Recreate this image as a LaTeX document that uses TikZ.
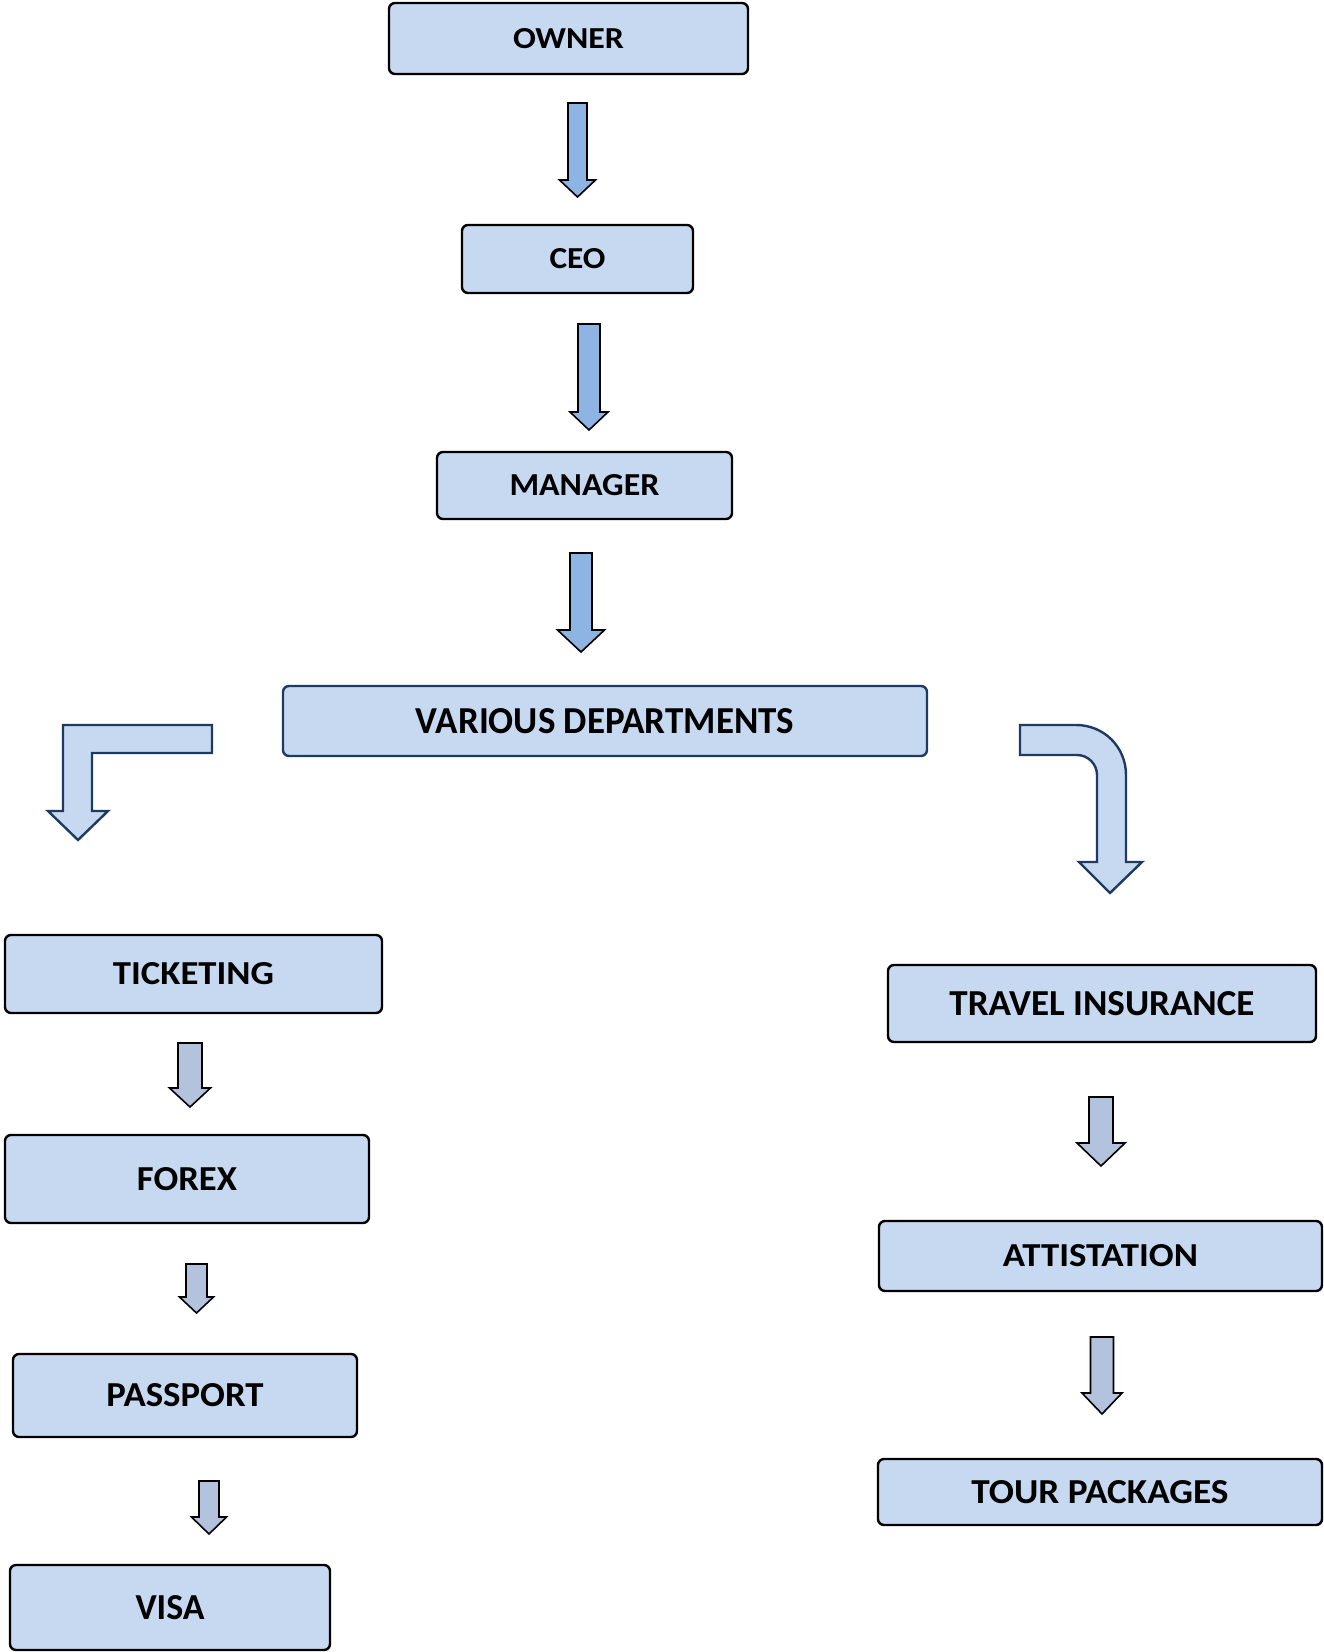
\documentclass[tikz,border=0pt]{standalone}
\usepackage{fontspec}
\usepackage{graphicx}
\setmainfont{Carlito}
\definecolor{boxfill}{HTML}{C6D9F1}
\definecolor{toparrowfill}{HTML}{8EB4E3}
\definecolor{smallarrowfill}{HTML}{B3C3DE}
\definecolor{navy}{HTML}{1F3A60}
\tikzset{
  orgbox/.style={draw=black, line width=2.4pt, fill=boxfill, rounded corners=6pt, inner sep=0pt, outer sep=0pt},
  navyborder/.style={draw=navy},
  toparrow/.style={draw=black, line width=1.6pt, fill=toparrowfill, line join=miter},
  smallarrow/.style={draw=black, line width=1.6pt, fill=smallarrowfill, line join=miter},
  bentarrow/.style={draw=navy, line width=2.4pt, fill=boxfill, line join=miter}
}
\newcommand\orgbox[9]{%
  \node[orgbox,#9,minimum width={(#4-#2)*1pt},minimum height={(#5-#3)*1pt}] (#1) at ({(#2+#4)/2},{(#3+#5)/2}) {\resizebox{#6pt}{#7pt}{\bfseries #8}};}
\newcommand\blkarrow[7]{%
  \draw[#1] ({#2-#3/2},#4) -- ({#2+#3/2},#4) -- ({#2+#3/2},#5) -- ({#2+#6/2},#5) -- (#2,#7) -- ({#2-#6/2},#5) -- ({#2-#3/2},#5) -- cycle;}
\begin{document}
\begin{tikzpicture}[x=1pt,y=-1pt]
\useasboundingbox (0,0) rectangle (1323,1652);
% boxes
\orgbox{owner}{389}{3}{748}{74}{111}{20}{OWNER}{}
\orgbox{ceo}{462}{225}{693}{293}{56}{20}{CEO}{}
\orgbox{manager}{437}{452}{732}{519}{150}{21}{MANAGER}{}
\orgbox{various}{283}{686}{927}{756}{378}{25}{VARIOUS DEPARTMENTS}{navyborder}
\orgbox{ticketing}{5}{935}{382}{1013}{161}{22}{TICKETING}{}
\orgbox{forex}{5}{1135}{369}{1223}{100}{23}{FOREX}{}
\orgbox{passport}{13}{1354}{357}{1437}{157}{23}{PASSPORT}{}
\orgbox{visa}{10}{1565}{330}{1650}{69}{24}{VISA}{}
\orgbox{travel}{888}{965}{1316}{1042}{305}{24}{TRAVEL INSURANCE}{}
\orgbox{attistation}{879}{1221}{1322}{1291}{195}{22}{ATTISTATION}{}
\orgbox{tour}{878}{1459}{1322}{1525}{257}{23}{TOUR PACKAGES}{}
% block arrows
\blkarrow{toparrow}{577.5}{19}{103}{180}{36}{197}
\blkarrow{toparrow}{589}{22}{324}{412}{38}{430}
\blkarrow{toparrow}{581}{22}{553}{630}{47}{652}
\blkarrow{smallarrow}{190}{24}{1043}{1088}{41}{1107}
\blkarrow{smallarrow}{196.5}{21}{1264}{1297}{34}{1313}
\blkarrow{smallarrow}{209}{20}{1481}{1517}{35}{1534}
\blkarrow{smallarrow}{1101}{24}{1097}{1143}{48}{1166}
\blkarrow{smallarrow}{1102}{23}{1337}{1393}{40}{1414}
% bent arrow left
\draw[bentarrow] (212,725) -- (63,725) -- (63,811) -- (48,811) -- (78,840) -- (108,811) -- (92,811) -- (92,753) -- (212,753) -- cycle;
% bent arrow right
\draw[bentarrow] (1020,725) -- (1076,725) .. controls (1104,725) and (1126,747) .. (1126,775)
  -- (1126,862) -- (1142,862) -- (1110,893) -- (1079,862) -- (1097,862) -- (1097,775)
  .. controls (1097,764) and (1088,755) .. (1077,755) -- (1020,755) -- cycle;
\end{tikzpicture}
\end{document}
